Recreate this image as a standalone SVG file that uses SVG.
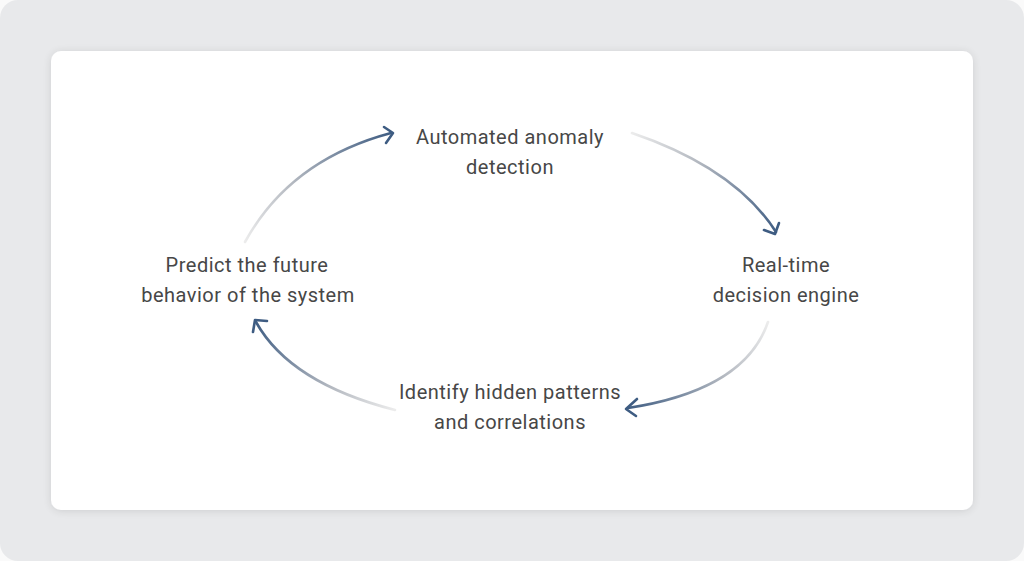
<svg xmlns="http://www.w3.org/2000/svg" width="1024" height="561" viewBox="0 0 1024 561">
<style>
.lbl{font-family:Roboto,"Liberation Sans",sans-serif;font-size:20px;letter-spacing:0.5px;fill:#474747;text-anchor:middle}
.arc{fill:none;stroke-width:2.6;stroke-linecap:round}
.head{fill:none;stroke:#3e5c82;stroke-width:2.6;stroke-linecap:round;stroke-linejoin:round}
</style>
<defs>
<filter id="sh" x="-5%" y="-5%" width="110%" height="115%">
<feGaussianBlur in="SourceAlpha" stdDeviation="4"/>
<feOffset dy="1"/>
<feComponentTransfer><feFuncA type="linear" slope="0.12"/></feComponentTransfer>
<feMerge><feMergeNode/><feMergeNode in="SourceGraphic"/></feMerge>
</filter>
<linearGradient id="g1" gradientUnits="userSpaceOnUse" x1="245" y1="242" x2="393" y2="133"><stop offset="0" stop-color="#ececec"/><stop offset="0.4" stop-color="#b3b8c0"/><stop offset="1" stop-color="#3e5c82"/></linearGradient>
<linearGradient id="g2" gradientUnits="userSpaceOnUse" x1="632" y1="133" x2="777" y2="234"><stop offset="0" stop-color="#ececec"/><stop offset="0.4" stop-color="#b3b8c0"/><stop offset="1" stop-color="#3e5c82"/></linearGradient>
<linearGradient id="g3" gradientUnits="userSpaceOnUse" x1="768" y1="322" x2="626" y2="409"><stop offset="0" stop-color="#ececec"/><stop offset="0.4" stop-color="#b3b8c0"/><stop offset="1" stop-color="#3e5c82"/></linearGradient>
<linearGradient id="g4" gradientUnits="userSpaceOnUse" x1="395" y1="410" x2="255" y2="320"><stop offset="0" stop-color="#ececec"/><stop offset="0.4" stop-color="#b3b8c0"/><stop offset="1" stop-color="#3e5c82"/></linearGradient>
</defs>
<rect x="0" y="0" width="1024" height="561" fill="#fafafa"/>
<rect x="0" y="0" width="1024" height="561" rx="18" fill="#e8e9eb"/>
<rect x="51" y="51" width="922" height="459" rx="10" fill="#ffffff" filter="url(#sh)"/>
<g id="connectors">
<path class="arc" stroke="url(#g1)" d="M245,242 Q290,160 391,133"/>
<polyline class="head" points="384,127 393,133 386,143"/>
<path class="arc" stroke="url(#g2)" d="M632,133 Q735,168 776,232"/>
<polyline class="head" points="764,230 775,234 779,223"/>
<path class="arc" stroke="url(#g3)" d="M768,322 Q745,390 628,408"/>
<polyline class="head" points="637,399 626,409 636,416"/>
<path class="arc" stroke="url(#g4)" d="M395,410 Q290,383 256,322"/>
<polyline class="head" points="253,332 255,320 267,321"/>
</g>
<g id="n1"><text class="lbl" x="510" y="144">Automated anomaly</text><text class="lbl" x="510" y="174">detection</text></g>
<g id="n2"><text class="lbl" x="786" y="272">Real-time</text><text class="lbl" x="786" y="302">decision engine</text></g>
<g id="n3"><text class="lbl" x="510" y="399">Identify hidden patterns</text><text class="lbl" x="510" y="429">and correlations</text></g>
<g id="n4"><text class="lbl" x="247" y="272">Predict the future</text><text class="lbl" x="248" y="302">behavior of the system</text></g>
</svg>
